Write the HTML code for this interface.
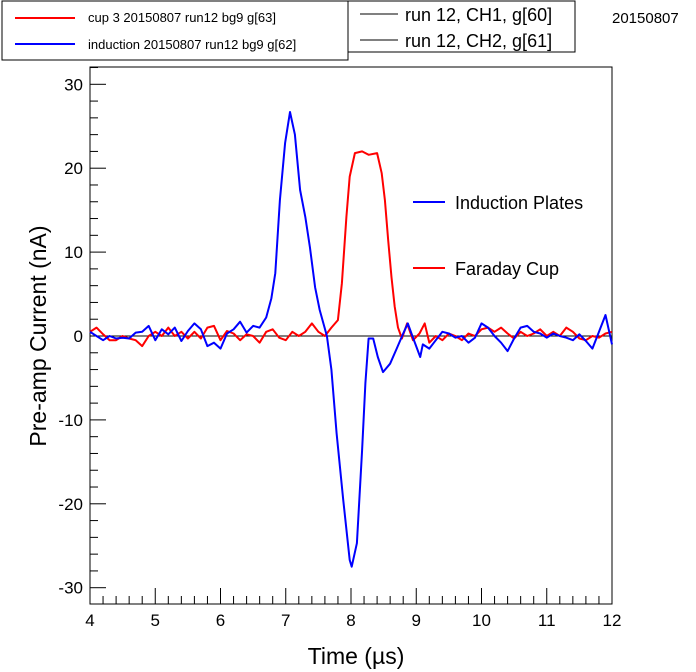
<!DOCTYPE html>
<html><head><meta charset="utf-8"><style>
body{margin:0;background:#fff;width:696px;height:672px;overflow:hidden}
svg{display:block;font-family:"Liberation Sans",Arial,sans-serif}
</style></head><body>
<svg id="c" width="696" height="672">
<rect x="2" y="1" width="346" height="59" fill="#fff" stroke="#000"/>
<line x1="15" y1="18" x2="75" y2="18" stroke="#f00" stroke-width="2"/>
<text x="88" y="22" font-size="13">cup 3 20150807 run12 bg9 g[63]</text>
<line x1="15" y1="44" x2="75" y2="44" stroke="#00f" stroke-width="2"/>
<text x="88" y="49" font-size="13">induction 20150807 run12 bg9 g[62]</text>
<rect x="348" y="1" width="227" height="51" fill="#fff" stroke="#000"/>
<line x1="360" y1="14" x2="398" y2="14" stroke="#000"/>
<text x="405" y="21" font-size="18">run 12, CH1, g[60]</text>
<line x1="360" y1="40" x2="398" y2="40" stroke="#000"/>
<text x="405" y="47" font-size="18">run 12, CH2, g[61]</text>
<text x="612" y="23" font-size="15">20150807</text>
<rect x="90" y="67" width="522" height="537" fill="none" stroke="#000"/>
<g id="ax"></g>
<g id="series"></g>
<line x1="413" y1="202" x2="445" y2="202" stroke="#00f" stroke-width="2"/>
<text x="455" y="209" font-size="18">Induction Plates</text>
<line x1="413" y1="268" x2="445" y2="268" stroke="#f00" stroke-width="2"/>
<text x="455" y="275" font-size="18">Faraday Cup</text>
<text x="356" y="664" font-size="23" text-anchor="middle">Time (µs)</text>
<text transform="translate(46,336) rotate(-90)" font-size="23" text-anchor="middle">Pre-amp Current (nA)</text>
</svg>
<script>
const xTicks=[4,5,6,7,8,9,10,11,12];
const yTicks=[-30,-20,-10,0,10,20,30];
const blueT=[4.0,4.1,4.2,4.3,4.4,4.5,4.6,4.7,4.8,4.9,5.0,5.1,5.2,5.3,5.4,5.5,5.6,5.7,5.8,5.9,6.0,6.1,6.2,6.3,6.4,6.5,6.6,6.7,6.78,6.84,6.91,6.99,7.065,7.14,7.22,7.3,7.37,7.45,7.52,7.63,7.7,7.78,7.88,7.98,8.01,8.09,8.17,8.22,8.27,8.34,8.41,8.49,8.6,8.7,8.8,8.87,8.95,9.06,9.1,9.2,9.3,9.4,9.5,9.6,9.7,9.8,9.9,10.0,10.1,10.2,10.3,10.4,10.5,10.6,10.7,10.8,10.9,11.0,11.1,11.2,11.3,11.4,11.5,11.6,11.7,11.8,11.9,12.0];
const blueV=[0.5,0,-0.5,0,-0.3,-0.2,-0.3,0.4,0.5,1.2,-0.5,0.8,0.2,1.0,-0.6,0.6,1.5,0.8,-1.2,-0.8,-1.5,0.3,0.8,1.7,0.4,1.2,1.0,2.2,4.5,7.5,16.2,23,26.7,24,17.4,14.2,10.6,5.8,3.1,0,-4,-11.6,-19.5,-26.7,-27.5,-24.7,-13.6,-5.6,-0.3,-0.3,-2.5,-4.3,-3.3,-1.5,0.3,1.5,-0.2,-2.5,-1,-1.5,-0.5,0.5,0.3,-0.2,0,-0.8,-0.2,1.5,1.0,0,-0.8,-1.8,-0.3,1.0,1.2,0.5,0.3,-0.2,0.3,0,-0.2,-0.5,0.2,-0.6,-1.5,0.5,2.5,-1];
const redT=[4.0,4.1,4.2,4.3,4.4,4.5,4.6,4.7,4.8,4.9,5.0,5.1,5.2,5.3,5.4,5.5,5.6,5.7,5.8,5.9,6.0,6.1,6.2,6.3,6.4,6.5,6.6,6.7,6.8,6.9,7.0,7.1,7.2,7.3,7.4,7.5,7.6,7.7,7.8,7.86,7.93,7.98,8.06,8.17,8.27,8.4,8.47,8.52,8.57,8.62,8.67,8.72,8.78,8.86,8.95,9.05,9.13,9.2,9.3,9.4,9.5,9.6,9.7,9.8,9.9,10.0,10.1,10.2,10.3,10.4,10.5,10.6,10.7,10.8,10.9,11.0,11.1,11.2,11.3,11.4,11.5,11.6,11.7,11.8,11.9,12.0];
const redV=[0.5,1,0.2,-0.5,-0.5,0,-0.3,-0.5,-1.2,0,0.5,0,1,0,0.5,-0.3,0.5,-0.3,1,1.2,-0.5,0.6,0.3,-0.5,0.2,0,-0.8,0.5,0.8,-0.2,-0.5,0.5,0,0.5,1.5,0.5,0,1.0,1.9,6.3,14.2,19,21.8,22,21.6,21.8,19.4,16.2,11.4,7,3.5,1,-0.3,1.5,-0.5,0.3,1.5,-0.8,0,-0.5,0.3,0,-0.5,0.3,0,0.8,1.0,0.5,1.0,0.3,-0.3,0.5,0,0.3,0.8,0,0.5,0,1,0.5,-0.3,-0.5,0,-0.2,0.3,0.5];
const X=t=>90+(t-4)*65.25, Y=v=>336-v*8.39;
const NS='http://www.w3.org/2000/svg';
const ax=document.getElementById('ax'), sg=document.getElementById('series');
function mk(tag,attrs,parent){const e=document.createElementNS(NS,tag);for(const k in attrs)e.setAttribute(k,attrs[k]);parent.appendChild(e);return e;}
for(let i=0;i<=40;i++){const t=4+i*0.2;const big=i%5===0;
 mk('line',{x1:X(t),x2:X(t),y1:604,y2:604-(big?16:8),stroke:'#000'},ax);}
xTicks.forEach(t=>{const e=mk('text',{x:X(t),y:626,'font-size':17,'text-anchor':'middle'},ax);e.textContent=t;
 
 });
for(let v=-32;v<=32;v+=2){const y=Y(v);if(y<67||y>604)continue;const big=v%10===0;
 mk('line',{x1:90,x2:90+(big?16:8),y1:y,y2:y,stroke:'#000'},ax);}
yTicks.forEach(v=>{const e=mk('text',{x:83,y:Y(v)+6,'font-size':17,'text-anchor':'end'},ax);e.textContent=v;
 
 });
const zl=mk('line',{x1:90,x2:612,y1:Y(0),y2:Y(0),stroke:'#000'},ax);


function path(T,V,col,name){const d=T.map((t,i)=>(i?'L':'M')+X(t).toFixed(1)+','+Y(V[i]).toFixed(1)).join('');
 const p=mk('path',{d:d,fill:'none',stroke:col,'stroke-width':2,'stroke-linejoin':'round'},sg);
 
 }
path(redT,redV,'#f00','faraday-cup-series');
path(blueT,blueV,'#00f','induction-series');
</script>
</body></html>
